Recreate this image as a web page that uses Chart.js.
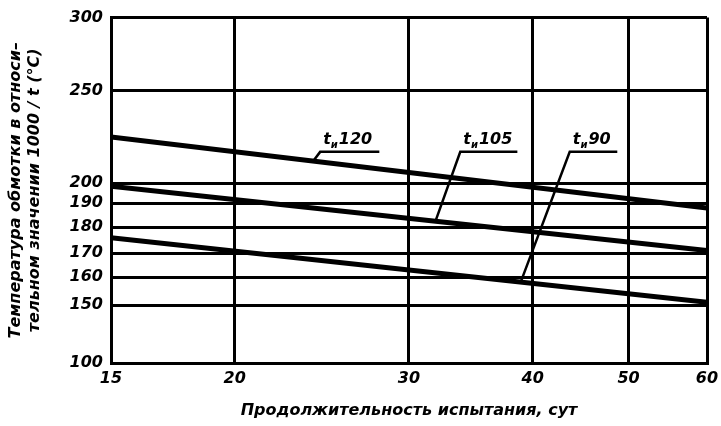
<!DOCTYPE html>
<html>
<head>
<meta charset="utf-8">
<script src="https://cdn.jsdelivr.net/npm/chart.js@4.4.1/dist/chart.umd.min.js"></script>
<style>
  html, body { margin: 0; padding: 0; background: #fff; }
  canvas { display: block; }
</style>
</head>
<body>
<canvas id="chart" width="721" height="426"></canvas>
<script>
// test duration, days (log axis)
const days = [15, 60]
const xTicks = [15, 20, 30, 40, 50, 60]
const yTicks = [100, 150, 160, 170, 180, 190, 200, 250, 300]

// winding temperature, °C, read at 15 and 60 days
const t120 = [225, 188]
const t105 = [198.5, 171]
const t90 = [176, 151]

const seriesNames = ["120", "105", "90"]

// the temperature axis in the drawing is not uniform: where each tick sits (0 = bottom, 1 = top)
const Y_STOPS = [
  [100, 0], [150, 0.1676], [160, 0.2486], [170, 0.3179], [180, 0.3931],
  [190, 0.4624], [200, 0.5202], [250, 0.788], [300, 1],
]

class DrawnScale extends Chart.LinearScale {
  static id = "drawn"

  getPixelForValue(value) {
    if (value === null || value === undefined || isNaN(value)) return NaN
    const s = Y_STOPS
    let i = 0
    while (i < s.length - 2 && value > s[i + 1][0]) i++
    const f = s[i][1] + (value - s[i][0]) / (s[i + 1][0] - s[i][0]) * (s[i + 1][1] - s[i][1])
    return this.getPixelForDecimal(f)
  }

  getValueForPixel(pixel) {
    const f = this.getDecimalForPixel(pixel)
    const s = Y_STOPS
    let i = 0
    while (i < s.length - 2 && f > s[i + 1][1]) i++
    return s[i][0] + (f - s[i][1]) / (s[i + 1][1] - s[i][1]) * (s[i + 1][0] - s[i][0])
  }
}
Chart.register(DrawnScale)

const font = (size) => ({ family: "'DejaVu Sans', sans-serif", size: size, style: "italic", weight: "bold" })

// leader callouts: underline span and the point where the leader meets the line, in days
const callouts = [
  { series: 0, from: 24.4, to: 28.0, foot: 24.0 },
  { series: 1, from: 33.8, to: 38.6, foot: 31.9 },
  { series: 2, from: 43.6, to: 48.7, foot: 38.9 },
]
const calloutLevel = 217

const calloutPlugin = {
  id: "callouts",
  afterDraw(chart) {
    const { ctx, scales } = chart
    const x = scales.x
    const y = scales.y
    ctx.save()
    ctx.strokeStyle = "#000"
    ctx.fillStyle = "#000"
    ctx.lineWidth = 2.5
    callouts.forEach((c) => {
      const pts = chart.getDatasetMeta(c.series).data
      const fx = x.getPixelForValue(c.foot)
      const p0 = pts[0], p1 = pts[pts.length - 1]
      const fy = p0.y + (fx - p0.x) / (p1.x - p0.x) * (p1.y - p0.y)
      const x0 = x.getPixelForValue(c.from)
      const x1 = x.getPixelForValue(c.to)
      const uy = y.getPixelForValue(calloutLevel)

      ctx.beginPath()
      ctx.moveTo(fx, fy)
      ctx.lineTo(x0, uy)
      ctx.lineTo(x1, uy)
      ctx.stroke()

      ctx.textBaseline = "alphabetic"
      ctx.textAlign = "left"
      ctx.font = "italic bold 16px 'DejaVu Sans'"
      const base = uy - 8
      ctx.fillText("t", x0 + 3, base)
      const tw = ctx.measureText("t").width
      ctx.font = "italic bold 10px 'DejaVu Sans'"
      ctx.fillText("и", x0 + 3 + tw, base + 4)
      const sw = ctx.measureText("и").width
      ctx.font = "italic bold 16px 'DejaVu Sans'"
      ctx.fillText(seriesNames[c.series], x0 + 4 + tw + sw, base)
    })
    ctx.restore()
  },
}

const makeSet = (vals) => ({
  data: days.map((d, i) => ({ x: d, y: vals[i] })),
  borderColor: "#000",
  borderWidth: 5,
  pointRadius: 0,
  fill: false,
  tension: 0,
})

new Chart(document.getElementById("chart"), {
  type: "line",
  data: { datasets: [makeSet(t120), makeSet(t105), makeSet(t90)] },
  plugins: [calloutPlugin],
  options: {
    responsive: false,
    animation: false,
    layout: { padding: { top: 16, right: 14, left: 0, bottom: 0 } },
    plugins: { legend: { display: false }, tooltip: { enabled: false } },
    scales: {
      x: {
        type: "logarithmic",
        min: 15,
        max: 60,
        afterBuildTicks: (s) => { s.ticks = xTicks.map((v) => ({ value: v })) },
        afterFit: (s) => { s.height = 63; s.paddingRight = 0; s.paddingLeft = 0 },
        ticks: { callback: (v) => String(v), color: "#000", font: font(16), padding: 6, maxRotation: 0, autoSkip: false },
        grid: { color: "#000", lineWidth: 3, drawTicks: false },
        border: { color: "#000", width: 3 },
        title: { display: true, text: "Продолжительность испытания, сут", color: "#000", font: font(16), padding: { top: 6, bottom: 6 } },
      },
      y: {
        type: "drawn",
        min: 100,
        max: 300,
        afterBuildTicks: (s) => { s.ticks = yTicks.map((v) => ({ value: v })) },
        afterFit: (s) => { s.width = 111 },
        ticks: { callback: (v) => String(v), color: "#000", font: font(16), padding: 8, autoSkip: false },
        grid: { color: "#000", lineWidth: 3, drawTicks: false },
        border: { color: "#000", width: 3 },
        title: {
          display: true,
          text: ["Температура обмотки в относи–", "тельном значении 1000 / t (°C)"],
          color: "#000",
          font: font(16),
          padding: { top: 6, bottom: 4 },
        },
      },
    },
  },
})
</script>
</body>
</html>
